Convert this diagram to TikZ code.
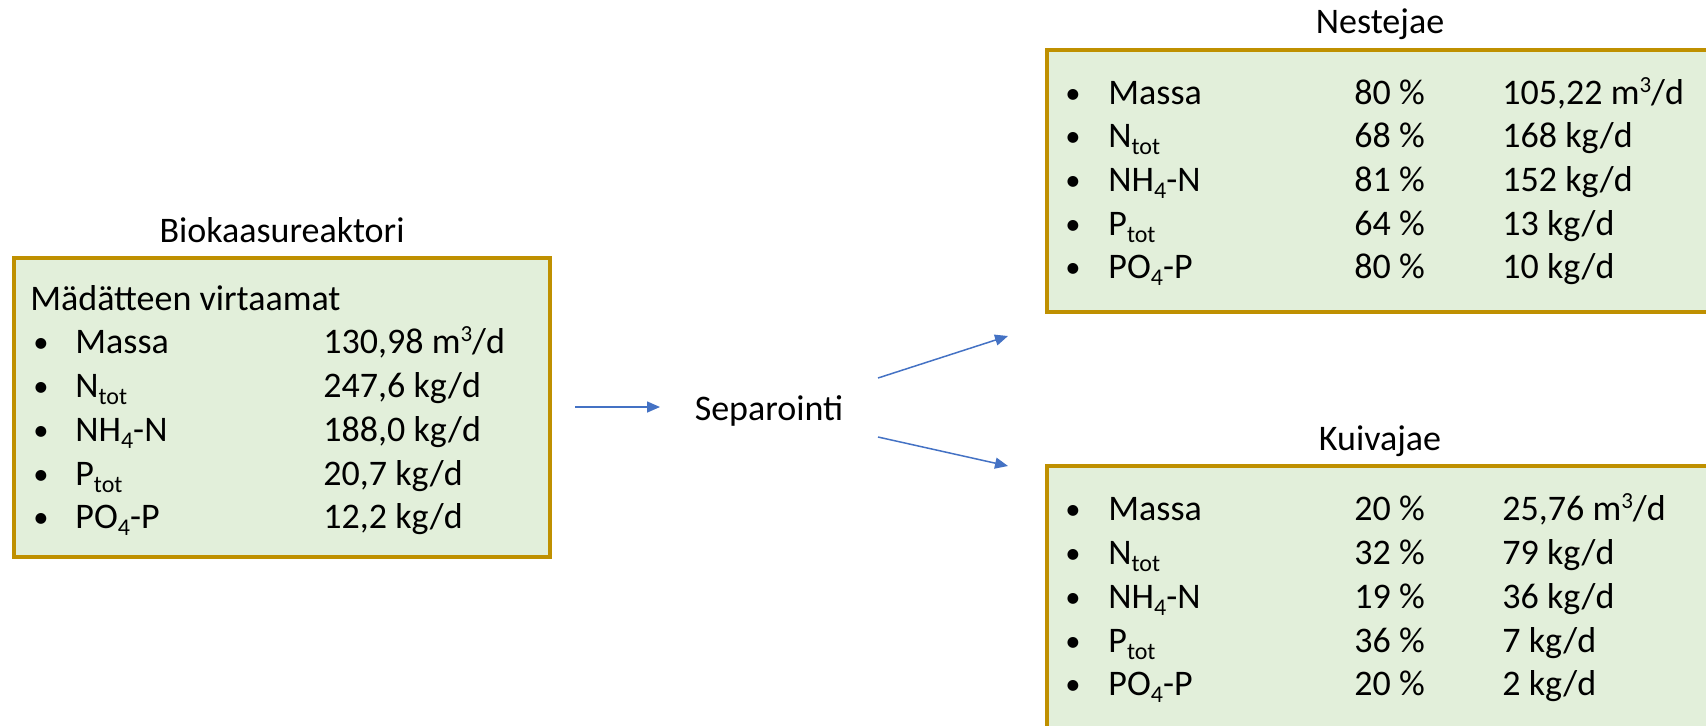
\documentclass[tikz,border=0pt]{standalone}
\usepackage{fontspec}
\setmainfont{Carlito}
\usetikzlibrary{arrows.meta}
\definecolor{boxgold}{HTML}{BF9000}
\definecolor{boxfill}{HTML}{E2EFDA}
\definecolor{flowblue}{HTML}{4472C4}
% lowered subscript, bullet and superscript in the style of the slide text
\newcommand{\sub}[1]{\raisebox{-3.8pt}{\fontsize{12}{12}\selectfont #1}}
\newcommand{\cube}{\raisebox{6pt}{\fontsize{11.5}{11.5}\selectfont 3}}
\newcommand{\dotmark}{\raisebox{0.3pt}{\scalebox{0.85}{•}}}
\begin{document}
\begin{tikzpicture}[x=0.5pt,y=-0.5pt,
  panel/.style={draw=boxgold, fill=boxfill, line width=1.6pt, inner sep=0pt},
  txt/.style={anchor=base west, inner sep=0pt, font=\fontsize{18}{21}\selectfont},
  ttl/.style={anchor=base, inner sep=0pt, font=\fontsize{18}{21}\selectfont},
  flow/.style={draw=flowblue, line width=0.75pt, -{Triangle[length=6.5pt,width=5.5pt]}}]
\useasboundingbox (0,0) rectangle (1706,725);
\clip (0,0) rectangle (1706,725);

% panels
\node[panel, minimum width=268pt, minimum height=149.5pt] (reactor) at (282,407.5) {};
\node[panel, minimum width=336.5pt, minimum height=131pt] (liquid) at (1383.5,181) {};
\node[panel, minimum width=336.5pt, minimum height=137pt] (solid) at (1383.5,603) {};

% titles
\node[ttl] (tReactor) at (282,242) {Biokaasureaktori};
\node[ttl] (tLiquid) at (1380,33) {Nestejae};
\node[ttl] (tSolid) at (1380,450) {Kuivajae};
\node[ttl] (sep) at (769,420) {Separointi};

% reactor contents
\node[txt] (rHead) at (30,310) {Mädätteen virtaamat};
\foreach \y/\lab/\val [count=\i] in {
  353/Massa/{130,98 m\cube/d},
  397/{N\sub{tot}}/{247,6 kg/d},
  441/{NH\sub{4}-N}/{188,0 kg/d},
  485/{P\sub{tot}}/{20,7 kg/d},
  528/{PO\sub{4}-P}/{12,2 kg/d}}{
  \node[txt] (rb\i) at (33,\y) {\dotmark};
  \node[txt] (rl\i) at (75,\y) {\lab};
  \node[txt] (rv\i) at (323,\y) {\val};
}

% liquid fraction
\foreach \y/\lab/\pct/\val [count=\i] in {
  104/Massa/80 \%/{105,22 m\cube/d},
  147/{N\sub{tot}}/68 \%/{168 kg/d},
  191/{NH\sub{4}-N}/81 \%/{152 kg/d},
  235/{P\sub{tot}}/64 \%/{13 kg/d},
  278/{PO\sub{4}-P}/80 \%/{10 kg/d}}{
  \node[txt] (lb\i) at (1065,\y) {\dotmark};
  \node[txt] (ll\i) at (1108,\y) {\lab};
  \node[txt] (lp\i) at (1354,\y) {\pct};
  \node[txt] (lv\i) at (1502,\y) {\val};
}

% solid fraction
\foreach \y/\lab/\pct/\val [count=\i] in {
  520/Massa/20 \%/{25,76 m\cube/d},
  564/{N\sub{tot}}/32 \%/{79 kg/d},
  608/{NH\sub{4}-N}/19 \%/{36 kg/d},
  652/{P\sub{tot}}/36 \%/{7 kg/d},
  695/{PO\sub{4}-P}/20 \%/{2 kg/d}}{
  \node[txt] (sb\i) at (1065,\y) {\dotmark};
  \node[txt] (sl\i) at (1108,\y) {\lab};
  \node[txt] (sp\i) at (1354,\y) {\pct};
  \node[txt] (sv\i) at (1502,\y) {\val};
}

% flow arrows
\coordinate (inS) at (575,407);
\coordinate (inE) at (660,407);
\coordinate (upS) at (878,378);
\coordinate (upE) at (1008,336);
\coordinate (dnS) at (878,437);
\coordinate (dnE) at (1008,466);
\draw[flow] (inS) -- (inE);
\draw[flow] (upS) -- (upE);
\draw[flow] (dnS) -- (dnE);
\end{tikzpicture}
\end{document}
